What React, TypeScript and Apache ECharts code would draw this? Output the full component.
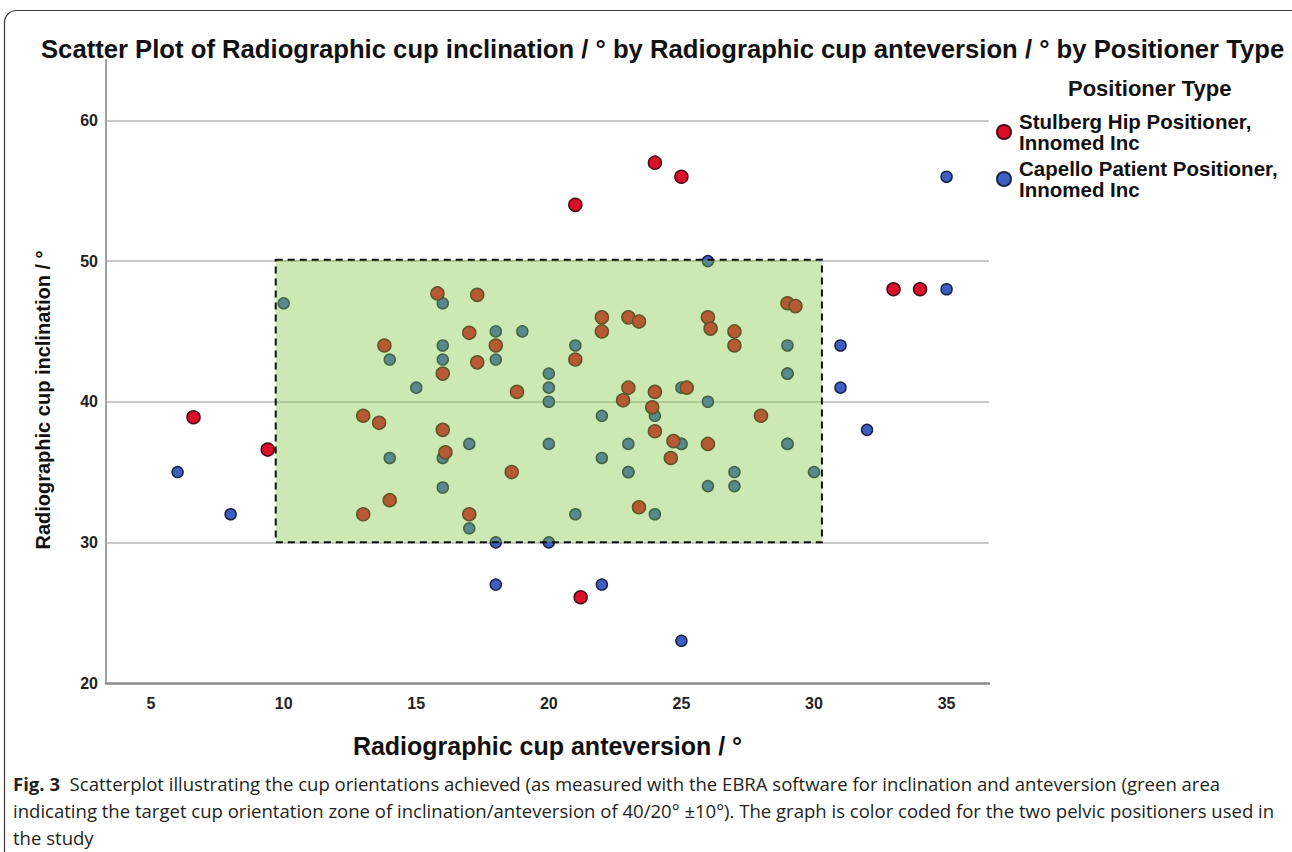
import React, { useEffect, useRef } from "react";
import * as echarts from "echarts";

// ---------- DATA ----------
const seriesNames = ["Stulberg Hip Positioner,\nInnomed Inc", "Capello Patient Positioner,\nInnomed Inc"];

const stulbergAnteversion = [
  6.6, 9.4, 21, 24, 25, 33, 34, 21.2,
  13.8, 13, 13.6, 14, 13, 15.8, 17.3, 17, 18, 17.3, 16, 21, 18.8, 22, 22, 23, 23.4, 26, 26.1,
  23, 22.8, 24, 23.9, 24, 25.2, 29, 29.3, 27, 27, 28, 16, 16.1, 24.7, 24.6, 26, 18.6, 17, 23.4,
];
const stulbergInclination = [
  38.9, 36.6, 54, 57, 56, 48, 48, 26.1,
  44, 39, 38.5, 33, 32, 47.7, 47.6, 44.9, 44, 42.8, 42, 43, 40.7, 46, 45, 46, 45.7, 46, 45.2,
  41, 40.1, 40.7, 39.6, 37.9, 41, 47, 46.8, 45, 44, 39, 38, 36.4, 37.2, 36, 37, 35, 32, 32.5,
];

const capelloAnteversion = [
  6, 8, 35, 35, 31, 31, 32, 18, 22, 25,
  26, 18, 20, 30, 10,
  14, 15, 14, 16, 18, 19, 16, 16, 18, 21, 20, 20, 20, 24, 22, 25, 26, 29, 29, 29,
  16, 17, 20, 23, 22, 25, 25, 23, 23, 16, 26, 21, 24, 17, 29, 29, 27, 27,
];
const capelloInclination = [
  35, 32, 56, 48, 44, 41, 38, 27, 27, 23,
  50, 30, 30, 35, 47,
  43, 41, 36, 47, 45, 45, 44, 43, 43, 44, 42, 41, 40, 39, 39, 41, 40, 44, 42, 42,
  36, 37, 37, 37, 36, 37, 37, 35, 35, 33.9, 34, 32, 32, 31, 37, 37, 35, 34,
];

// target zone (inclination/anteversion 40/20 ± 10)
const targetAnteversion = [9.7, 30.3];
const targetInclination = [30, 50.1];

const xTickLabels = [5, 10, 15, 20, 25, 30, 35];
const yTickLabels = [20, 30, 40, 50, 60];
const xRange = [3.3, 36.6];
const yRange = [20, 64.3];

const chartTitle =
  "Scatter Plot of Radiographic cup inclination / \u00b0 by Radiographic cup anteversion / \u00b0 by Positioner Type";
const xAxisTitle = "Radiographic cup anteversion / \u00b0";
const yAxisTitle = "Radiographic cup inclination / \u00b0";
const legendTitle = "Positioner Type";
const captionLine1 =
  "Scatterplot illustrating the cup orientations achieved (as measured with the EBRA software for inclination and anteversion (green area";
const captionLine2 =
  "indicating the target cup orientation zone of inclination/anteversion of 40/20\u00b0 \u00b110\u00b0). The graph is color coded for the two pelvic positioners used in";
const captionLine3 = "the study";

function fitFontSize(text: string, family: string, weight: string, target: number, fallback: number): number {
  try {
    const ctx = document.createElement("canvas").getContext("2d");
    if (!ctx) return fallback;
    ctx.font = `${weight} 100px ${family}`;
    const w = ctx.measureText(text).width;
    if (!w) return fallback;
    return (100 * target) / w;
  } catch (e) {
    return fallback;
  }
}

export default function App() {
  const ref = useRef<HTMLDivElement>(null);

  useEffect(() => {
    if (!ref.current) return;
    const chart = echarts.init(ref.current, undefined, { renderer: "svg" });

    const sans = "'Liberation Sans', Arial, sans-serif";
    const capFont = "'Open Sans', 'Noto Sans', sans-serif";
    const capSize = fitFontSize(captionLine2, capFont, "normal", 1262, 16);
    const titleSize = fitFontSize(chartTitle, sans, "bold", 1244, 22);

    const stulbergData = stulbergAnteversion.map((x, i) => [x, stulbergInclination[i]]);
    const capelloData = capelloAnteversion.map((x, i) => [x, capelloInclination[i]]);

    const option: any = {
      animation: false,
      backgroundColor: "#ffffff",
      textStyle: { fontFamily: sans },
      grid: { left: 106, right: 303, top: 60, bottom: 169, containLabel: false, outerBoundsMode: "none" },
      xAxis: {
        type: "value",
        min: xRange[0],
        max: xRange[1],
        name: xAxisTitle,
        nameLocation: "middle",
        nameGap: 50,
        nameTextStyle: { fontFamily: sans, fontWeight: "bold", fontSize: 25, color: "#111" },
        axisLine: { show: true, lineStyle: { color: "#8c8c8c", width: 2.5 } },
        axisTick: { show: false },
        splitLine: { show: false },
        axisLabel: {
          showMinLabel: false,
          showMaxLabel: false,
          margin: 12,
          fontFamily: sans,
          fontWeight: "bold",
          fontSize: 16,
          color: "#222",
          formatter: (v: number) => (xTickLabels.indexOf(Math.round(v * 1000) / 1000) >= 0 ? String(v) : ""),
        },
      },
      yAxis: {
        type: "value",
        min: yRange[0],
        max: yRange[1],
        axisLine: { show: true, lineStyle: { color: "#a0a0a0", width: 2 } },
        axisTick: { show: false },
        splitLine: { show: true, showMinLine: false, showMaxLine: false, lineStyle: { color: "#c9c9c9", width: 2 } },
        axisLabel: {
          showMaxLabel: false,
          margin: 8,
          fontFamily: sans,
          fontWeight: "bold",
          fontSize: 16,
          color: "#222",
          formatter: (v: number) => (yTickLabels.indexOf(Math.round(v * 1000) / 1000) >= 0 ? String(v) : ""),
        },
      },
      title: [
        {
          text: chartTitle,
          left: 36,
          top: 31,
          textStyle: { fontFamily: sans, fontWeight: "bold", fontSize: titleSize, color: "#111" },
        },
        {
          text: legendTitle,
          left: 1063,
          top: 72,
          textStyle: { fontFamily: sans, fontWeight: "bold", fontSize: 22, color: "#111" },
        },
      ],
      legend: {
        data: seriesNames,
        orient: "vertical",
        left: 991,
        top: 106,
        itemGap: 5,
        itemWidth: 14,
        itemHeight: 14,
        icon: "circle",
        textStyle: { fontFamily: sans, fontWeight: "bold", fontSize: 20.5, lineHeight: 21, color: "#111", padding: [0, 0, 0, 3] },
      },
      graphic: [
        {
          type: "rect",
          shape: { x: 4.5, y: 10.5, width: 1320, height: 880, r: 12 },
          style: { fill: "none", stroke: "#3a3a3a", lineWidth: 1.2 },
          silent: true,
          z: 0,
        },
        {
          type: "text",
          x: 43,
          y: 400,
          rotation: Math.PI / 2,
          style: {
            text: yAxisTitle,
            align: "center",
            verticalAlign: "middle",
            font: `bold 20px ${sans}`,
            fill: "#111",
          },
        },
        {
          type: "text",
          x: 13,
          y: 783,
          style: {
            text: "{b|Fig. 3}  " + captionLine1,
            verticalAlign: "middle",
            font: `${capSize}px ${capFont}`,
            fill: "#231f20",
            rich: {
              b: { fontWeight: "bold", fontFamily: capFont, fontSize: capSize, fill: "#231f20" },
            },
          },
        },
        {
          type: "text",
          x: 13,
          y: 810,
          style: { text: captionLine2, verticalAlign: "middle", font: `${capSize}px ${capFont}`, fill: "#231f20" },
        },
        {
          type: "text",
          x: 13,
          y: 837,
          style: { text: captionLine3, verticalAlign: "middle", font: `${capSize}px ${capFont}`, fill: "#231f20" },
        },
      ],
      series: [
        {
          name: seriesNames[0],
          type: "scatter",
          z: 3,
          data: stulbergData,
          symbol: "circle",
          symbolSize: 13,
          itemStyle: { color: "#dc0f2a", borderColor: "#4a0a16", borderWidth: 1.5, opacity: 1 },
        },
        {
          name: seriesNames[1],
          type: "scatter",
          z: 2,
          data: capelloData,
          symbol: "circle",
          symbolSize: 11,
          itemStyle: { color: "#3d5fc2", borderColor: "#1b2448", borderWidth: 1.5, opacity: 1 },
        },
        {
          name: "target zone",
          type: "custom",
          z: 10,
          silent: true,
          data: [[targetAnteversion[0], targetInclination[0], targetAnteversion[1], targetInclination[1]]],
          encode: { x: [0, 2], y: [1, 3] },
          renderItem: (params: any, api: any) => {
            const p0 = api.coord([api.value(0), api.value(3)]);
            const p1 = api.coord([api.value(2), api.value(1)]);
            return {
              type: "rect",
              shape: { x: p0[0], y: p0[1], width: p1[0] - p0[0], height: p1[1] - p0[1] },
              style: { fill: "rgba(128,200,64,0.4)", stroke: "#111", lineWidth: 2, lineDash: [7, 5] },
            };
          },
        },
      ],
    };

    chart.setOption(option);
    return () => chart.dispose();
  }, []);

  return (
    <div
      ref={ref}
      style={{ position: "absolute", left: 0, top: 0, width: 1292, height: 852, background: "#fff" }}
    />
  );
}
